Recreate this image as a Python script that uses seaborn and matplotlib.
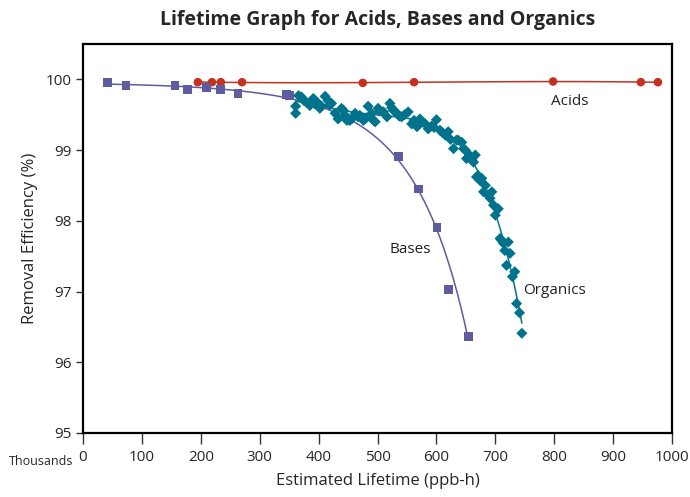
import numpy as np
import pandas as pd
import matplotlib
matplotlib.use("Agg")
import matplotlib.pyplot as plt
import seaborn as sns

# Estimated lifetime in thousands of ppb-h, removal efficiency in %
acids_x = [195, 219, 234, 270, 475, 562, 798, 947, 976]
acids_y = [99.96, 99.96, 99.96, 99.96, 99.95, 99.96, 99.97, 99.96, 99.96]

bases_x = [42, 73, 156, 178, 209, 234, 263, 346, 350, 536, 570, 601, 620, 654]
bases_y = [99.95, 99.91, 99.91, 99.86, 99.88, 99.86, 99.80, 99.79, 99.77,
           98.91, 98.45, 97.91, 97.03, 96.36]

organics_x = [361, 361, 366, 371, 375, 380, 385, 391, 394, 397, 402, 405, 411,
              416, 419, 422, 428, 433, 439, 442, 445, 448, 453, 456, 462, 467,
              470, 476, 480, 484, 490, 493, 496, 501, 504, 510, 516, 521, 524,
              527, 533, 537, 541, 546, 552, 558, 562, 567, 572, 576, 581, 586,
              592, 596, 600, 606, 610, 615, 620, 624, 629, 634, 637, 643, 646,
              649, 651, 656, 660, 663, 666, 668, 671, 674, 677, 680, 683, 688,
              691, 694, 697, 700, 705, 708, 711, 714, 716, 719, 722, 725, 729,
              733, 736, 741, 745]
organics_y = [99.62, 99.52, 99.77, 99.75, 99.70, 99.67, 99.63, 99.73, 99.65,
              99.68, 99.59, 99.62, 99.76, 99.70, 99.64, 99.66, 99.52, 99.44,
              99.59, 99.56, 99.49, 99.42, 99.42, 99.44, 99.52, 99.47, 99.49,
              99.42, 99.45, 99.62, 99.52, 99.42, 99.40, 99.59, 99.55, 99.54,
              99.47, 99.66, 99.60, 99.56, 99.52, 99.48, 99.47, 99.50, 99.54,
              99.37, 99.42, 99.33, 99.44, 99.40, 99.37, 99.30, 99.34, 99.32,
              99.43, 99.28, 99.25, 99.21, 99.26, 99.15, 99.02, 99.14, 99.14,
              99.11, 99.02, 99.00, 98.88, 98.93, 98.86, 98.83, 98.93, 98.62,
              98.64, 98.57, 98.60, 98.41, 98.50, 98.36, 98.32, 98.41, 98.22,
              98.08, 98.17, 97.75, 97.72, 97.68, 97.58, 97.37, 97.70, 97.54,
              97.21, 97.28, 96.83, 96.70, 96.41]

x_ticks = [0, 100, 200, 300, 400, 500, 600, 700, 800, 900, 1000]
y_ticks = [95, 96, 97, 98, 99, 100]

acid_col = "#c4321f"
base_col = "#5e5c9e"
org_col = "#00738c"

sns.set_theme(style="ticks")
plt.rcParams["font.family"] = ["Open Sans", "DejaVu Sans"]

acids = pd.DataFrame({"x": acids_x, "y": acids_y})
bases = pd.DataFrame({"x": bases_x, "y": bases_y})
organics = pd.DataFrame({"x": organics_x, "y": organics_y})

# bases trend: smooth fit of the loss (100 - y) on a log scale
coef = np.polyfit(bases["x"], np.log(100 - bases["y"]), 2)
bx = np.linspace(bases["x"].min(), bases["x"].max(), 200)
bases_fit = pd.DataFrame({"x": bx, "y": 100 - np.exp(np.polyval(coef, bx))})

fig = plt.figure(figsize=(6.9, 4.97), dpi=100)
ax = fig.add_axes([0.1203, 0.1288, 0.8537, 0.7827])

# trend lines
sns.regplot(data=acids, x="x", y="y", order=3, ci=None, scatter=False, ax=ax,
            line_kws={"color": acid_col, "lw": 1.1})
sns.lineplot(data=bases_fit, x="x", y="y", color=base_col, lw=1.1, ax=ax)
sns.regplot(data=organics, x="x", y="y", order=5, ci=None, scatter=False, ax=ax,
            line_kws={"color": org_col, "lw": 1.1})

sns.scatterplot(data=acids, x="x", y="y", marker="o", s=38, color=acid_col,
                edgecolor="none", ax=ax, zorder=3)
sns.scatterplot(data=bases, x="x", y="y", marker="s", s=40, color=base_col,
                edgecolor="none", ax=ax, zorder=3)
sns.scatterplot(data=organics, x="x", y="y", marker="D", s=32, color=org_col,
                edgecolor="none", ax=ax, zorder=3)

ax.text(827, 99.69, "Acids", fontsize=11, ha="center", va="center", color="#222222")
ax.text(555, 97.60, "Bases", fontsize=11, ha="center", va="center", color="#222222")
ax.text(801, 97.01, "Organics", fontsize=11, ha="center", va="center", color="#222222")

ax.set_xlim(0, 1000)
ax.set_ylim(95, 100.5)
ax.set_xticks(x_ticks)
ax.set_yticks(y_ticks)
ax.set_xticklabels([str(v) for v in x_ticks], fontsize=11)
ax.set_yticklabels([str(v) for v in y_ticks], fontsize=11)
ax.tick_params(axis="x", length=8, width=1, color="#333333", pad=4)
ax.tick_params(axis="y", length=5, width=1, color="#333333", pad=3)
for sp in ax.spines.values():
    sp.set_visible(True)
    sp.set_color("black")
    sp.set_linewidth(1.6)

ax.set_xlabel("Estimated Lifetime (ppb-h)", fontsize=12, labelpad=6)
ax.set_ylabel("Removal Efficiency (%)", fontsize=12, labelpad=6)
ax.set_title("Lifetime Graph for Acids, Bases and Organics", fontsize=14,
             fontweight="bold", pad=14)
fig.text(0.059, 0.072, "Thousands", fontsize=9, ha="center", va="center")

fig.savefig("out.png", dpi=100, facecolor="white")
